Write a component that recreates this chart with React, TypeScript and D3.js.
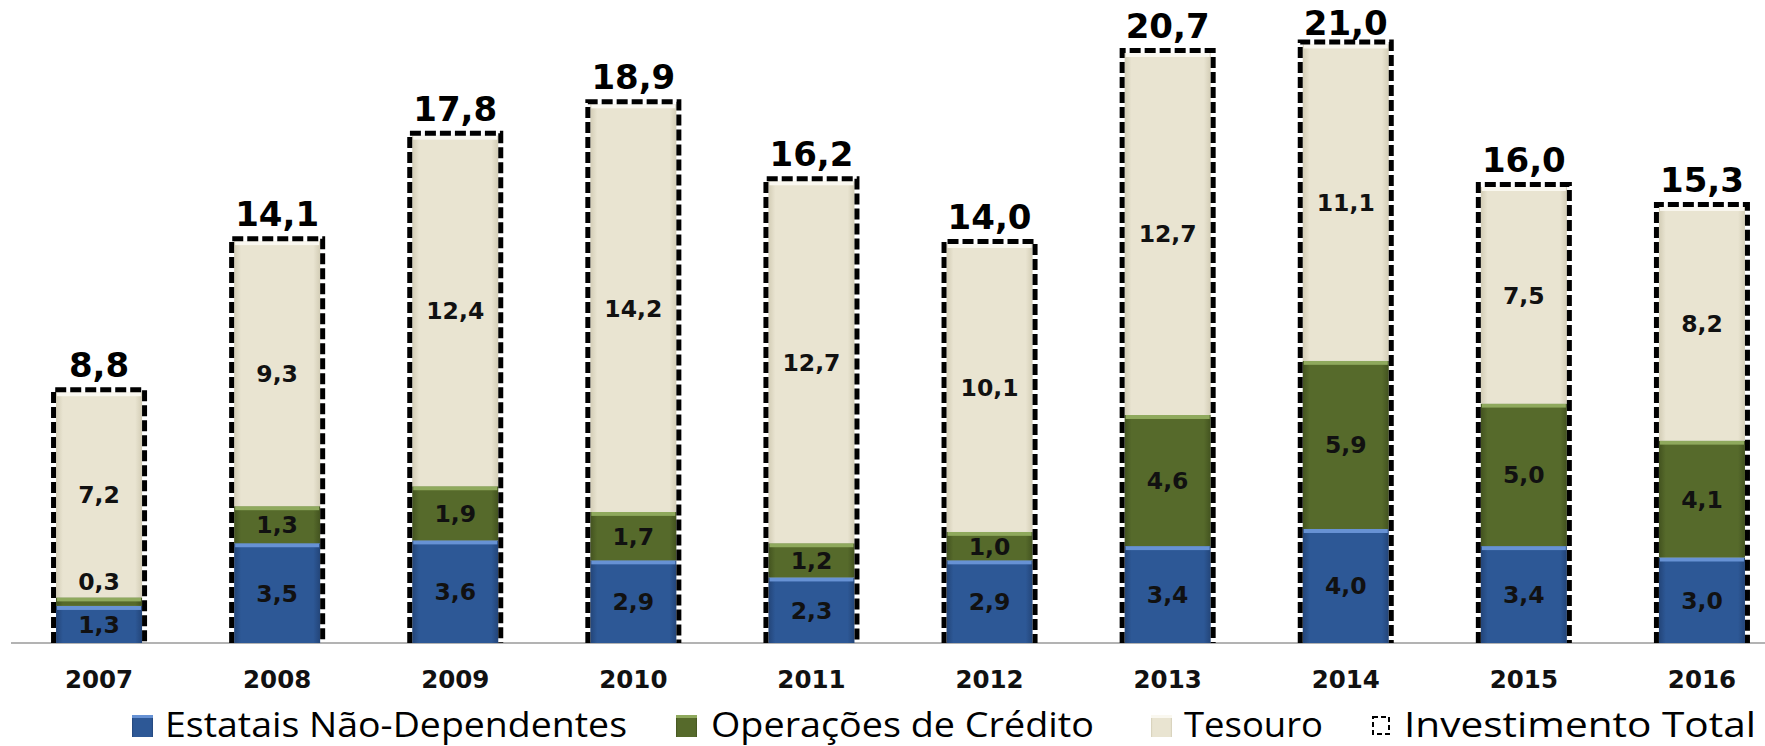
import React, { useEffect, useRef } from "react";
import * as d3 from "d3";

// values (R$ bilhões)
const years = ["2007", "2008", "2009", "2010", "2011", "2012", "2013", "2014", "2015", "2016"];
const estatais = [1.3, 3.5, 3.6, 2.9, 2.3, 2.9, 3.4, 4.0, 3.4, 3.0];
const operacoes = [0.3, 1.3, 1.9, 1.7, 1.2, 1.0, 4.6, 5.9, 5.0, 4.1];
const tesouro = [7.2, 9.3, 12.4, 14.2, 12.7, 10.1, 12.7, 11.1, 7.5, 8.2];
const total = [8.8, 14.1, 17.8, 18.9, 16.2, 14.0, 20.7, 21.0, 16.0, 15.3];

const legendLabels = ["Estatais Não-Dependentes", "Operações de Crédito", "Tesouro", "Investimento Total"];

const W = 1765;
const H = 746;

const fmt = (v: number) => v.toFixed(1).replace(".", ",");

const App: React.FC = () => {
  const ref = useRef<SVGSVGElement | null>(null);

  useEffect(() => {
    document.body.style.margin = "0";
    if (!ref.current) return;
    const svg = d3.select(ref.current);
    svg.selectAll("*").remove();

    const baseline = 643;
    const y = d3.scaleLinear().domain([0, 22.56]).range([baseline, 0]);
    const x = d3
      .scaleBand<string>()
      .domain(years)
      .range([10, 1791])
      .paddingInner(0.517)
      .paddingOuter(0.2585);

    const series = [
      { key: "estatais", values: estatais, base: "#2D5896", light: "#6792d4", dark: "#234579" },
      { key: "operacoes", values: operacoes, base: "#566A2B", light: "#8fa95d", dark: "#43531f" },
      { key: "tesouro", values: tesouro, base: "#E9E4D1", light: "#faf8f0", dark: "#d3cdb6" },
    ];

    const defs = svg.append("defs");
    series.forEach((s) => {
      const g = defs
        .append("linearGradient")
        .attr("id", `grad-${s.key}`)
        .attr("x1", "0%")
        .attr("x2", "100%");
      g.append("stop").attr("offset", "0%").attr("stop-color", s.dark);
      g.append("stop").attr("offset", "8%").attr("stop-color", s.base);
      g.append("stop").attr("offset", "92%").attr("stop-color", s.base);
      g.append("stop").attr("offset", "100%").attr("stop-color", s.dark);
    });

    // axis line
    svg
      .append("line")
      .attr("x1", 11)
      .attr("x2", W)
      .attr("y1", baseline)
      .attr("y2", baseline)
      .attr("stroke", "#9a9a9a")
      .attr("stroke-width", 1.5);

    const bw = x.bandwidth();
    const barsG = svg.append("g");
    const labelsG = svg.append("g");

    years.forEach((yr, i) => {
      const x0 = x(yr)!;
      const cx = x0 + bw / 2;
      const e = estatais[i];
      const o = operacoes[i];
      const segs = [
        { s: series[0], lo: 0, hi: e, v: e },
        { s: series[1], lo: e, hi: e + o, v: o },
        { s: series[2], lo: e + o, hi: total[i], v: tesouro[i] },
      ];

      segs.forEach(({ s, lo, hi, v }) => {
        const top = y(hi);
        const h = y(lo) - y(hi);
        barsG
          .append("rect")
          .attr("x", x0)
          .attr("y", top)
          .attr("width", bw)
          .attr("height", h)
          .attr("fill", `url(#grad-${s.key})`);
        barsG
          .append("rect")
          .attr("x", x0 + 1)
          .attr("y", top)
          .attr("width", bw - 2)
          .attr("height", Math.min(4, h))
          .attr("fill", s.light);

        // tiny segments get their label just above
        const small = h < 22;
        const ly = small ? top - 16 : top + h / 2;
        labelsG
          .append("text")
          .attr("x", cx)
          .attr("y", ly)
          .attr("dy", "0.36em")
          .attr("text-anchor", "middle")
          .style("font-family", "'DejaVu Sans', Verdana, sans-serif")
          .style("font-weight", "bold")
          .style("font-size", "23.5px")
          .attr("fill", "#111")
          .text(fmt(v));
      });

      // dashed total box (open at the bottom)
      const ty = y(total[i]);
      const p = d3.path();
      p.moveTo(x0 - 2.5, baseline);
      p.lineTo(x0 - 2.5, ty - 2.5);
      p.lineTo(x0 + bw + 2.5, ty - 2.5);
      p.lineTo(x0 + bw + 2.5, baseline);
      barsG
        .append("path")
        .attr("d", p.toString())
        .attr("fill", "none")
        .attr("stroke", "#000")
        .attr("stroke-width", 5)
        .attr("stroke-dasharray", "11,4");

      labelsG
        .append("text")
        .attr("x", cx)
        .attr("y", Math.max(35, ty - 15))
        .attr("text-anchor", "middle")
        .style("font-family", "'DejaVu Sans', Verdana, sans-serif")
        .style("font-weight", "bold")
        .style("font-size", "34px")
        .attr("fill", "#000")
        .text(fmt(total[i]));

      labelsG
        .append("text")
        .attr("x", cx)
        .attr("y", 688)
        .attr("text-anchor", "middle")
        .style("font-family", "'DejaVu Sans', Verdana, sans-serif")
        .style("font-weight", "bold")
        .style("font-size", "24.5px")
        .attr("fill", "#111")
        .text(yr);
    });

    // legend
    const legendItems = [
      { label: legendLabels[0], sq: 132, tx: 165, tw: 462, s: series[0] },
      { label: legendLabels[1], sq: 676, tx: 711, tw: 383, s: series[1] },
      { label: legendLabels[2], sq: 1151, tx: 1184, tw: 139, s: series[2] },
      { label: legendLabels[3], sq: 1371, tx: 1404, tw: 352, s: null },
    ];
    const ly = 737;
    legendItems.forEach((it) => {
      if (it.s) {
        svg
          .append("rect")
          .attr("x", it.sq)
          .attr("y", ly - 22)
          .attr("width", 21)
          .attr("height", 22)
          .attr("fill", `url(#grad-${it.s.key})`);
        svg
          .append("rect")
          .attr("x", it.sq)
          .attr("y", ly - 22)
          .attr("width", 21)
          .attr("height", 3)
          .attr("fill", it.s.light);
      } else {
        svg
          .append("rect")
          .attr("x", it.sq + 2)
          .attr("y", ly - 20)
          .attr("width", 16)
          .attr("height", 17)
          .attr("fill", "none")
          .attr("stroke", "#000")
          .attr("stroke-width", 2)
          .attr("stroke-dasharray", "5,3");
      }
      svg
        .append("text")
        .attr("x", it.tx)
        .attr("y", ly)
        .attr("textLength", it.tw)
        .attr("lengthAdjust", "spacingAndGlyphs")
        .style("font-family", "'Open Sans', 'Noto Sans', sans-serif")
        .style("font-weight", 500)
        .style("font-size", "34px")
        .attr("fill", "#000")
        .text(it.label);
    });
  }, []);

  return <svg ref={ref} width={W} height={H} style={{ display: "block", background: "#fff" }} />;
};

export default App;
